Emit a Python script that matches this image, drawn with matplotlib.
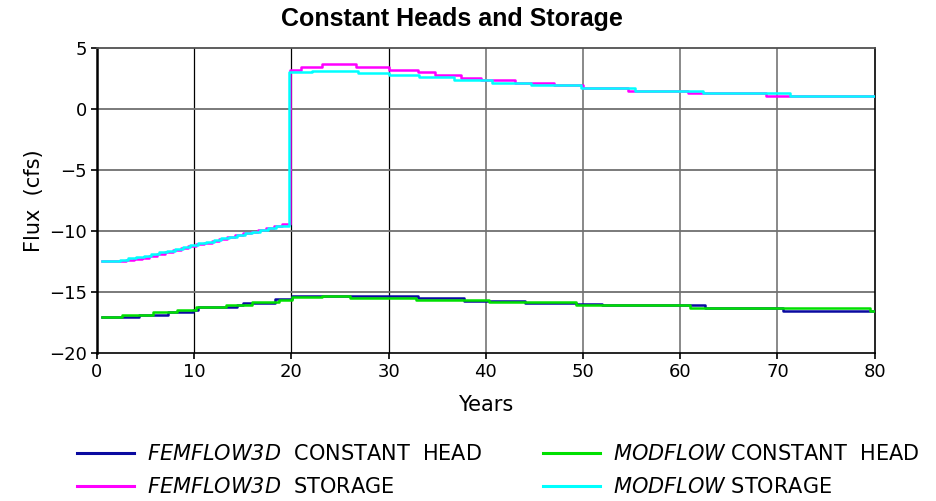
import matplotlib
matplotlib.use("Agg")
import matplotlib.pyplot as plt
from matplotlib.lines import Line2D

plt.rcParams["font.family"] = ["DejaVu Sans"]
plt.rcParams["mathtext.fontset"] = "custom"
plt.rcParams["mathtext.it"] = "DejaVu Sans:italic"
plt.rcParams["mathtext.rm"] = "DejaVu Sans:italic"

# ---- data (step series, value holds until next x) ----
fem_ch_x = [0.5, 4.3, 7.3, 9.9, 10.4, 14.4, 15.0, 18.3, 20.1, 33.0, 37.8, 44.0, 49.3, 52.0, 62.6, 70.6, 80.0]
fem_ch_y = [-17.05, -16.85, -16.67, -16.45, -16.25, -16.07, -15.87, -15.6, -15.3, -15.5, -15.7, -15.9, -15.95, -16.1, -16.35, -16.55, -16.55]

mod_ch_x = [0.5, 2.6, 5.8, 8.2, 10.2, 13.3, 16.0, 18.7, 20.1, 23.2, 26.0, 32.8, 40.3, 49.3, 61.0, 79.5, 80.0]
mod_ch_y = [-17.05, -16.85, -16.67, -16.45, -16.25, -16.07, -15.85, -15.65, -15.4, -15.3, -15.5, -15.65, -15.85, -16.1, -16.33, -16.55, -16.55]

fem_st_x = [0.5, 3.0, 3.8, 4.6, 5.4, 6.2, 7.0, 7.8, 8.6, 9.4, 10.2, 11.0, 11.8, 12.6, 13.4, 14.2, 15.0, 15.8,
            16.6, 17.4, 18.2, 19.0, 19.9, 21.0, 23.2, 26.6, 30.0, 33.0, 34.8, 37.5, 39.5, 43.0, 47.0, 50.0,
            54.6, 60.8, 68.8, 80.0]
fem_st_y = [-12.45, -12.4, -12.3, -12.2, -12.05, -11.9, -11.7, -11.55, -11.4, -11.25, -11.1, -10.95, -10.8,
            -10.65, -10.5, -10.35, -10.2, -10.05, -9.9, -9.75, -9.6, -9.4, 3.2, 3.45, 3.66, 3.47, 3.2, 3.0,
            2.8, 2.57, 2.38, 2.16, 1.94, 1.76, 1.5, 1.28, 1.05, 1.05]

mod_st_x = [0.5, 2.4, 3.2, 4.0, 4.8, 5.6, 6.4, 7.2, 8.0, 8.8, 9.6, 10.4, 11.2, 12.0, 12.8, 13.6, 14.4, 15.2,
            16.0, 16.8, 17.6, 18.4, 19.8, 22.1, 26.9, 30.0, 33.1, 36.7, 40.6, 44.7, 49.8, 55.3, 62.3, 71.3, 80.0]
mod_st_y = [-12.45, -12.35, -12.25, -12.15, -12.05, -11.9, -11.75, -11.6, -11.45, -11.3, -11.15, -11.0,
            -10.9, -10.75, -10.6, -10.45, -10.3, -10.2, -10.05, -9.9, -9.75, -9.6, 3.0, 3.14, 2.98, 2.79,
            2.6, 2.38, 2.16, 1.94, 1.75, 1.5, 1.3, 1.05, 1.05]

series = [
    (fem_ch_x, fem_ch_y, "#0a0aa0", r"$FEMFLOW3D$  CONSTANT  HEAD"),
    (fem_st_x, fem_st_y, "#ff00ff", r"$FEMFLOW3D$  STORAGE"),
    (mod_ch_x, mod_ch_y, "#00e000", r"$MODFLOW$ CONSTANT  HEAD"),
    (mod_st_x, mod_st_y, "#00ffff", r"$MODFLOW$ STORAGE"),
]

fig = plt.figure(figsize=(9.36, 5.01), dpi=100)
ax = fig.add_axes([0.1036, 0.2954, 0.8308, 0.6086])

# grid: first three verticals black, rest gray
for x in [10, 20, 30]:
    ax.axvline(x, color="black", lw=0.9, zorder=1)
for x in [40, 50, 60, 70]:
    ax.axvline(x, color="#808080", lw=1.3, zorder=1)
for y in [0, -5, -10, -15]:
    ax.axhline(y, color="#707070", lw=1.3, zorder=1)

handles = []
for xs, ys, c, lab in series:
    ax.step(xs, ys, where="post", color=c, lw=1.8, zorder=3)
    handles.append(Line2D([], [], color=c, lw=2.2, label=lab))

ax.set_xlim(0, 80)
ax.set_ylim(-20, 5)
ax.set_xticks(range(0, 81, 10))
ax.set_yticks(range(-20, 6, 5))
ax.set_yticklabels(["\u221220", "\u221215", "\u221210", "\u22125", "0", "5"])
ax.tick_params(axis="both", labelsize=13, length=4, width=1.2, direction="out")
ax.tick_params(axis="y", pad=3)
ax.spines["left"].set_linewidth(1.8)
ax.spines["bottom"].set_linewidth(1.2)
ax.spines["top"].set_color("#505050")
ax.spines["top"].set_linewidth(1.3)
ax.spines["right"].set_linewidth(1.2)

ax.set_xlabel("Years", fontsize=15, labelpad=10)
ax.set_ylabel("Flux  (cfs)", fontsize=15, labelpad=4)

fig.text(0.483, 0.962, "Constant Heads and Storage", ha="center", va="center",
         fontsize=18, fontweight="bold", family=["Liberation Sans", "DejaVu Sans"])

fig.legend(handles=handles, ncol=2, loc="lower left", bbox_to_anchor=(0.062, -0.03),
           frameon=False, fontsize=15, handlelength=2.75, handletextpad=0.63,
           columnspacing=2.9, labelspacing=0.62)

fig.savefig("out.png", dpi=100)
